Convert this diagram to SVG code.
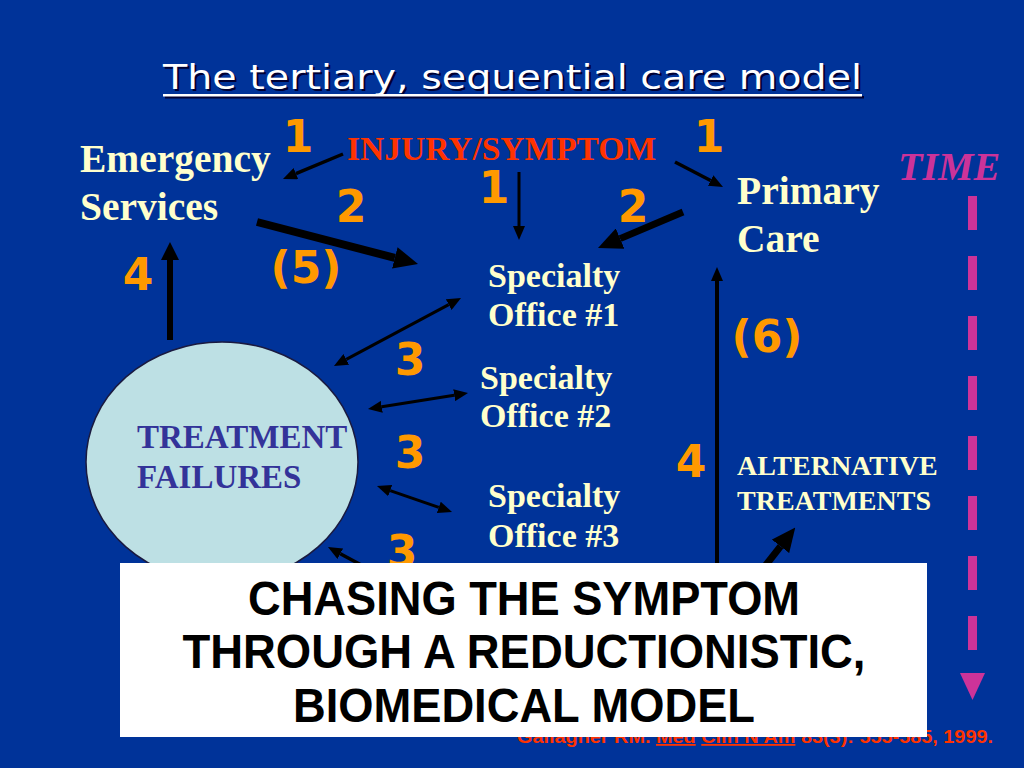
<svg xmlns="http://www.w3.org/2000/svg" width="1024" height="768" viewBox="0 0 1024 768">
<style>
.num{font-family:"DejaVu Sans","Verdana",sans-serif;font-weight:bold;font-size:44px;fill:#FF9900;text-anchor:middle}
.lbl{font-family:"Liberation Serif","Times New Roman",serif;font-weight:bold;fill:#FFFFCC}
.big{font-size:39.5px}
.mid{font-size:34px}
.ln{fill:none;stroke:#000;stroke-linecap:butt}
.box{font-family:"Liberation Sans",Arial,sans-serif;font-weight:bold;font-size:48px;fill:#000;text-anchor:middle}
</style>
<defs>
<marker id="ah" viewBox="0 0 14 12" refX="0" refY="6" markerWidth="14" markerHeight="12" markerUnits="userSpaceOnUse" orient="auto-start-reverse"><path d="M0,0 L14,6 L0,12 z" fill="#000"/></marker>
<marker id="ahm" viewBox="0 0 18 18" refX="0" refY="9" markerWidth="18" markerHeight="18" markerUnits="userSpaceOnUse" orient="auto"><path d="M0,0 L18,9 L0,18 z" fill="#000"/></marker>
<marker id="ahb" viewBox="0 0 24 22" refX="0" refY="11" markerWidth="24" markerHeight="22" markerUnits="userSpaceOnUse" orient="auto"><path d="M0,0 L24,11 L0,22 z" fill="#000"/></marker>
</defs>
<rect x="0" y="0" width="1024" height="768" fill="#003399"/>

<g id="title">
<text x="165" y="91" font-family="DejaVu Sans,Verdana,sans-serif" font-size="34" fill="#000033" textLength="699" lengthAdjust="spacingAndGlyphs">The tertiary, sequential care model</text>
<rect x="165" y="96" width="699" height="2.5" fill="#000033"/>
<text x="163" y="89" font-family="DejaVu Sans,Verdana,sans-serif" font-size="34" fill="#FFFFFF" textLength="699" lengthAdjust="spacingAndGlyphs">The tertiary, sequential care model</text>
<rect x="163" y="94" width="699" height="2.5" fill="#FFFFFF"/>
</g>

<g id="citation">
<text x="517" y="743" font-family="Liberation Sans,Arial,sans-serif" font-weight="bold" font-size="18" fill="#FF3300" textLength="476" lengthAdjust="spacingAndGlyphs">Gallagher RM. <tspan text-decoration="underline">Med</tspan> <tspan text-decoration="underline">Clin N Am</tspan> 83(3): 555-585, 1999.</text>
</g>

<g id="node-emergency"><text class="lbl big" x="80" y="172">Emergency</text><text class="lbl big" x="80" y="220">Services</text></g>
<g id="node-injury"><text x="347" y="160" font-family="Liberation Serif,Times New Roman,serif" font-weight="bold" font-size="33.5" fill="#FF3300">INJURY/SYMPTOM</text></g>
<g id="node-primary"><text class="lbl big" x="737" y="204">Primary</text><text class="lbl big" x="737" y="252">Care</text></g>
<g id="node-spec1"><text class="lbl mid" x="488" y="287">Specialty</text><text class="lbl mid" x="488" y="326">Office #1</text></g>
<g id="node-spec2"><text class="lbl mid" x="480" y="389">Specialty</text><text class="lbl mid" x="480" y="427">Office #2</text></g>
<g id="node-spec3"><text class="lbl mid" x="488" y="507">Specialty</text><text class="lbl mid" x="488" y="547">Office #3</text></g>
<g id="node-failures">
<ellipse cx="222" cy="462" rx="136" ry="120" fill="#BDE0E4" stroke="#1a1a40" stroke-width="1.5"/>
<text x="137" y="448" font-family="Liberation Serif,Times New Roman,serif" font-weight="bold" font-size="33" fill="#333399">TREATMENT</text>
<text x="137" y="488" font-family="Liberation Serif,Times New Roman,serif" font-weight="bold" font-size="33" fill="#333399">FAILURES</text>
</g>
<g id="node-alternative"><text class="lbl" font-size="28" x="737" y="475">ALTERNATIVE</text><text class="lbl" font-size="28" x="737" y="510">TREATMENTS</text></g>

<g id="time">
<text x="898" y="180" font-family="Liberation Serif,Times New Roman,serif" font-weight="bold" font-style="italic" font-size="40" fill="#CC3399">TIME</text>
<line x1="972.5" y1="196" x2="972.5" y2="650" stroke="#CC3399" stroke-width="9" stroke-dasharray="34 26"/>
<polygon points="960,673 985,673 972.5,700" fill="#CC3399"/>
</g>

<g id="connectors">
<line class="ln" x1="343" y1="154" x2="295.9" y2="173.6" stroke-width="3.5" marker-end="url(#ah)"/>
<line class="ln" x1="519" y1="172" x2="519" y2="226" stroke-width="3" marker-end="url(#ah)"/>
<line class="ln" x1="675" y1="162" x2="710.6" y2="180.5" stroke-width="3.5" marker-end="url(#ah)"/>
<line class="ln" x1="683" y1="212" x2="620.1" y2="238.6" stroke-width="7" marker-end="url(#ahb)"/>
<line class="ln" x1="257" y1="222" x2="394.8" y2="257.9" stroke-width="8" marker-end="url(#ahb)"/>
<line class="ln" x1="170" y1="340" x2="170" y2="260" stroke-width="6" marker-end="url(#ahm)"/>
<line class="ln" x1="346.3" y1="359.4" x2="448.7" y2="304.6" stroke-width="3" marker-start="url(#ah)" marker-end="url(#ah)"/>
<line class="ln" x1="381.8" y1="406.8" x2="454.2" y2="395.2" stroke-width="3" marker-start="url(#ah)" marker-end="url(#ah)"/>
<line class="ln" x1="390.2" y1="490.6" x2="438.8" y2="507.4" stroke-width="3" marker-start="url(#ah)" marker-end="url(#ah)"/>
<line class="ln" x1="365" y1="567" x2="340.3" y2="553.7" stroke-width="3.5" marker-end="url(#ah)"/>
<line class="ln" x1="717" y1="580" x2="717" y2="281" stroke-width="4" marker-end="url(#ah)"/>
<line class="ln" x1="762" y1="570" x2="780.5" y2="546.3" stroke-width="7" marker-end="url(#ahb)"/>
</g>

<g id="numbers">
<text class="num" x="298" y="152">1</text>
<text class="num" x="709" y="152">1</text>
<text class="num" x="494" y="203">1</text>
<text class="num" x="351" y="222">2</text>
<text class="num" x="633" y="222">2</text>
<text class="num" x="306" y="283">(5)</text>
<text class="num" x="138" y="290">4</text>
<text class="num" x="767" y="352">(6)</text>
<text class="num" x="410" y="375">3</text>
<text class="num" x="410" y="468">3</text>
<text class="num" x="402" y="567">3</text>
<text class="num" x="691" y="477">4</text>
</g>

<g id="summary-box">
<rect x="120" y="563" width="807" height="174" fill="#FFFFFF"/>
<text class="box" x="524" y="615" textLength="552" lengthAdjust="spacingAndGlyphs">CHASING THE SYMPTOM</text>
<text class="box" x="524" y="668" textLength="683" lengthAdjust="spacingAndGlyphs">THROUGH A REDUCTIONISTIC,</text>
<text class="box" x="524" y="722" textLength="462" lengthAdjust="spacingAndGlyphs">BIOMEDICAL MODEL</text>
</g>
</svg>
